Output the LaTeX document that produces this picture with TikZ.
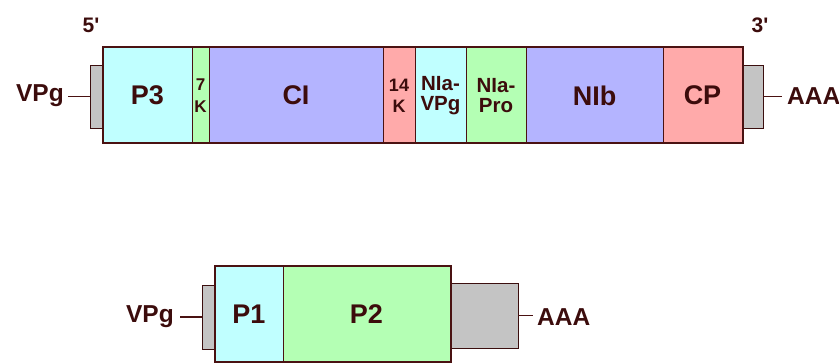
\documentclass[tikz,border=0pt]{standalone}
\usepackage{fontspec}
\setmainfont{Liberation Sans}
\definecolor{border}{HTML}{4A1212}
\definecolor{ink}{HTML}{3C0C0C}
\definecolor{cyanfill}{HTML}{C0FFFF}
\definecolor{greenfill}{HTML}{B4FFB4}
\definecolor{lavfill}{HTML}{B4B4FF}
\definecolor{pinkfill}{HTML}{FFAAAA}
\definecolor{grayfill}{HTML}{C4C4C4}
\tikzset{
  seg/.style={draw=border, line width=1pt, inner sep=0pt, minimum height=95pt,
    text=ink, align=center, font=\bfseries\fontsize{27}{30}\selectfont},
  smalltxt/.style={font=\bfseries\fontsize{17}{22}\selectfont},
  midtxt/.style={font=\bfseries\fontsize{18}{21}\selectfont},
  duotxt/.style={font=\bfseries\fontsize{20.5}{20}\selectfont},
  endcap/.style={draw=border!80!black, line width=0.8pt, fill=grayfill, inner sep=0pt},
  endlabel/.style={text=ink, inner sep=0pt, font=\bfseries\fontsize{24.5}{26}\selectfont},
  primelabel/.style={text=ink, inner sep=0pt, font=\bfseries\fontsize{21}{24}\selectfont},
  outline/.style={draw=border, line width=2pt},
  tail/.style={draw=border, line width=1.4pt},
}
\begin{document}
\begin{tikzpicture}[x=1pt, y=-1pt]
\useasboundingbox (0,0) rectangle (839,363);

% ---------- genomic RNA ----------
% terminal caps
\node[endcap, minimum width=13pt, minimum height=63pt] (vpgcapA) at (96.5,96.5) {};
\node[endcap, minimum width=21pt, minimum height=63pt] (polyAcapA) at (752.5,96.5) {};

% polyprotein segments
\node[seg, fill=cyanfill,  minimum width=89pt]  (p3)    at (147.5,95.5) {P3};
\node[seg, fill=greenfill, minimum width=17pt, smalltxt] (k7) at (200.5,95.5) {7\\K};
\node[seg, fill=lavfill,   minimum width=174pt] (ci)    at (296,95.5)   {CI};
\node[seg, fill=pinkfill,  minimum width=32pt, midtxt]   (k14) at (399,95.5) {14\\K};
\node[seg, fill=cyanfill,  minimum width=51pt, duotxt]   (niavpg) at (440.5,95.5) {NIa-\\VPg};
\node[seg, fill=greenfill, minimum width=60pt, duotxt]   (niapro) at (496,95.5)  {NIa-\\Pro};
\node[seg, fill=lavfill,   minimum width=137pt] (nib)   at (594.5,95.5) {NIb};
\node[seg, fill=pinkfill,  minimum width=79pt]  (cp)    at (702.5,95.5) {CP};
\draw[outline] (p3.north west) rectangle (cp.south east);

% ends and labels
\node[endlabel, anchor=east] (vpgA) at (64,96) {VPg};
\coordinate (vpgAend) at (68,96.5);
\draw[tail] (vpgAend) -- (vpgcapA.west);
\node[endlabel, anchor=west] (aaaA) at (787,96) {AAA};
\coordinate (aaaAend) at (782,96.5);
\draw[tail] (polyAcapA.east) -- (aaaAend);
\node[primelabel] (five) at (91,25) {5\textquotesingle};
\node[primelabel] (three) at (760,25) {3\textquotesingle};

% ---------- subgenomic RNA ----------
\node[endcap, minimum width=13pt, minimum height=64pt] (vpgcapB) at (208.5,317) {};
\node[endcap, minimum width=68pt, minimum height=65pt] (polyAcapB) at (484,315.5) {};

\node[seg, fill=cyanfill,  minimum width=68pt]  (p1) at (249,314.5) {P1};
\node[seg, fill=greenfill, minimum width=167pt] (p2) at (366.5,314.5) {P2};
\draw[outline] (p1.north west) rectangle (p2.south east);

\node[endlabel, anchor=east] (vpgB) at (174,317) {VPg};
\coordinate (vpgBend) at (180,317);
\draw[tail] (vpgBend) -- (vpgcapB.west);
\node[endlabel, anchor=west] (aaaB) at (537,317) {AAA};
\coordinate (aaaBend) at (533,315.5);
\draw[tail] (polyAcapB.east) -- (aaaBend);
\end{tikzpicture}
\end{document}
